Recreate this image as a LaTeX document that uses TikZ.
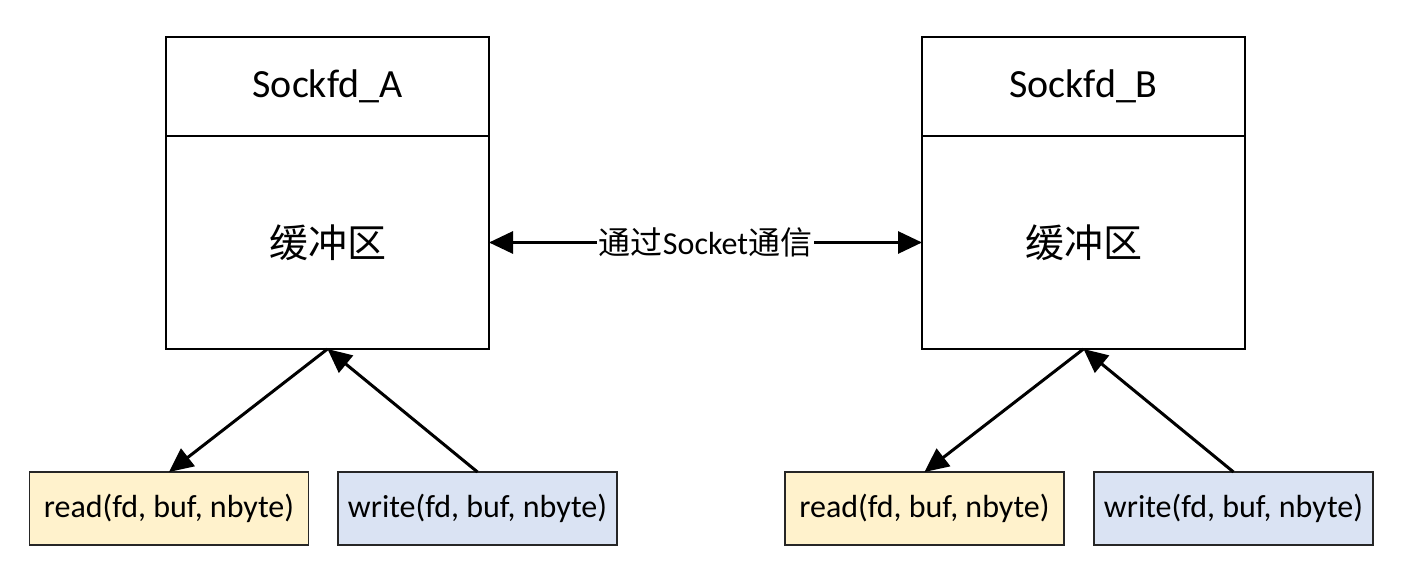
\documentclass[tikz,border=0pt]{standalone}
\usepackage{fontspec}
\setmainfont{Carlito}
\newfontfamily\cjk{Noto Sans CJK SC}
\usetikzlibrary{arrows.meta}
\definecolor{yel}{HTML}{FFF2CC}
\definecolor{blu}{HTML}{DAE3F3}
\begin{document}
\begin{tikzpicture}[x=1pt,y=-1pt,
  bigbox/.style={draw, line width=2.8pt, minimum width=323pt, outer sep=0pt, inner sep=0pt, font=\fontsize{40}{46}\selectfont},
  fnbox/.style={draw=black!85, line width=1.2pt, minimum width=279pt, minimum height=73pt, outer sep=0pt, inner sep=0pt, font=\fontsize{32}{36}\selectfont},
  arr/.style={line width=3pt, -{Triangle[length=24pt,width=22pt]}},
  darr/.style={line width=3pt, {Triangle[length=24pt,width=22pt]}-{Triangle[length=24pt,width=22pt]}}]
\useasboundingbox (0,0) rectangle (1406,577);
\fill[white] (0,0) rectangle (1406,577);
% Box A
\node[bigbox, minimum height=99pt] (Ahead) at (327.5,86.5) {Sockfd\_A};
\node[bigbox, minimum height=213pt] (Abody) at (327.5,242.5) {\cjk\fontsize{39}{44}\selectfont 缓冲区};
% Box B
\node[bigbox, minimum height=99pt] (Bhead) at (1083.5,86.5) {Sockfd\_B};
\node[bigbox, minimum height=213pt] (Bbody) at (1083.5,242.5) {\cjk\fontsize{39}{44}\selectfont 缓冲区};
% function boxes
\node[fnbox, fill=yel] (readA) at (169,508.5) {read(fd, buf, nbyte)};
\node[fnbox, fill=blu] (writeA) at (477.5,508.5) {write(fd, buf, nbyte)};
\node[fnbox, fill=yel] (readB) at (924.5,508.5) {read(fd, buf, nbyte)};
\node[fnbox, fill=blu] (writeB) at (1233.5,508.5) {write(fd, buf, nbyte)};
% arrows
\draw[arr] (Abody.south) -- (readA.north);
\draw[arr] (writeA.north) -- (Abody.south);
\draw[arr] (Bbody.south) -- (readB.north);
\draw[arr] (writeB.north) -- (Bbody.south);
\draw[darr] (Abody.east) -- (Bbody.west)
  node[midway, fill=white, inner sep=2pt, font=\fontsize{32}{36}\selectfont] {{\cjk 通过}Socket{\cjk 通信}};
\end{tikzpicture}
\end{document}
